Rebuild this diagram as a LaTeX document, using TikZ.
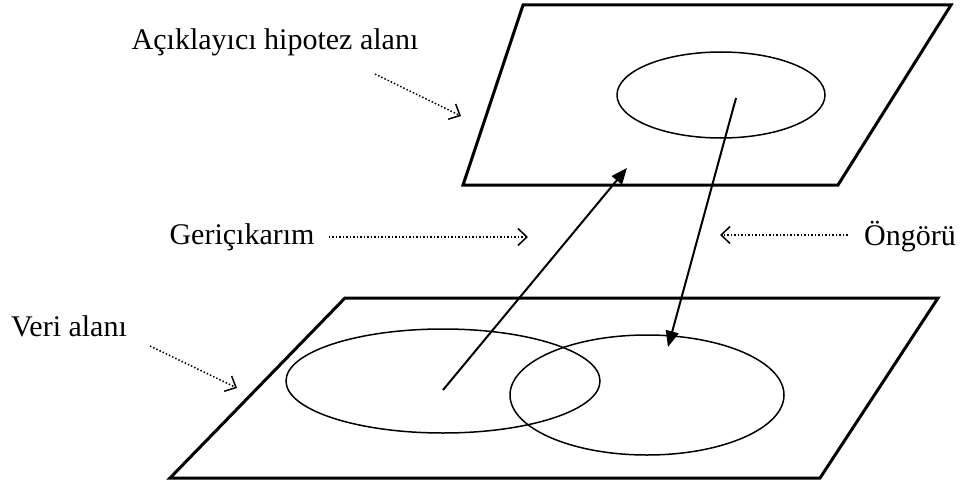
\documentclass[tikz,border=0pt]{standalone}
\usepackage{fontspec}
\setmainfont{Liberation Serif}
\usepackage{tikz}
\usetikzlibrary{arrows.meta,calc,positioning}

\tikzset{
  plane/.style={line width=3pt, line join=miter},
  region/.style={line width=1.5pt},
  infer/.style={-{Triangle[length=16pt,width=13pt]}, line width=2pt},
  pointer/.style={-{Straight Barb[length=9pt,width=17pt]}, line width=1.5pt, dotted},
  lbl/.style={font=\fontsize{30}{34}\selectfont, inner sep=0pt}
}

\begin{document}
\begin{tikzpicture}[x=1pt,y=-1pt]
\useasboundingbox (0,0) rectangle (968,484);

% the two planes
\draw[plane] (523,5) -- (951,5) -- (838,185) -- (463,185) -- cycle;
\draw[plane] (345,298) -- (938,298) -- (820,478) -- (170,478) -- cycle;

% regions on the planes
\draw[region] (721,95) ellipse [x radius=104, y radius=43];
\draw[region] (443,381) ellipse [x radius=157, y radius=52];
\draw[region] (647,395) ellipse [x radius=137, y radius=60];

% inference arrows
\coordinate(D1) at (443,390);
\coordinate(H1) at (627,168);
\coordinate(H2) at (736,98);
\coordinate(D2) at (668,347);
\draw[infer] (D1) -- (H1);
\draw[infer] (H2) -- (D2);

% labels
\node[lbl](hyp) at (275,42) {Açıklayıcı hipotez alanı};
\node[lbl](abd) at (242,237) {Geriçıkarım};
\node[lbl](pred) at (910,237) {Öngörü};
\node[lbl](data) at (69,326) {Veri alanı};

\coordinate(hypT) at (461,116);
\coordinate(abdT) at (528,237);
\coordinate(predT) at (720,235);
\coordinate(dataT) at (237,388);

\draw[pointer] (375,74) -- (hypT);
\draw[pointer] ([xshift=14pt]abd.east) -- (abdT);
\draw[pointer] ([xshift=-16pt,yshift=2pt]pred.west) -- (predT);
\draw[pointer] (150,346) -- (dataT);
\end{tikzpicture}
\end{document}
